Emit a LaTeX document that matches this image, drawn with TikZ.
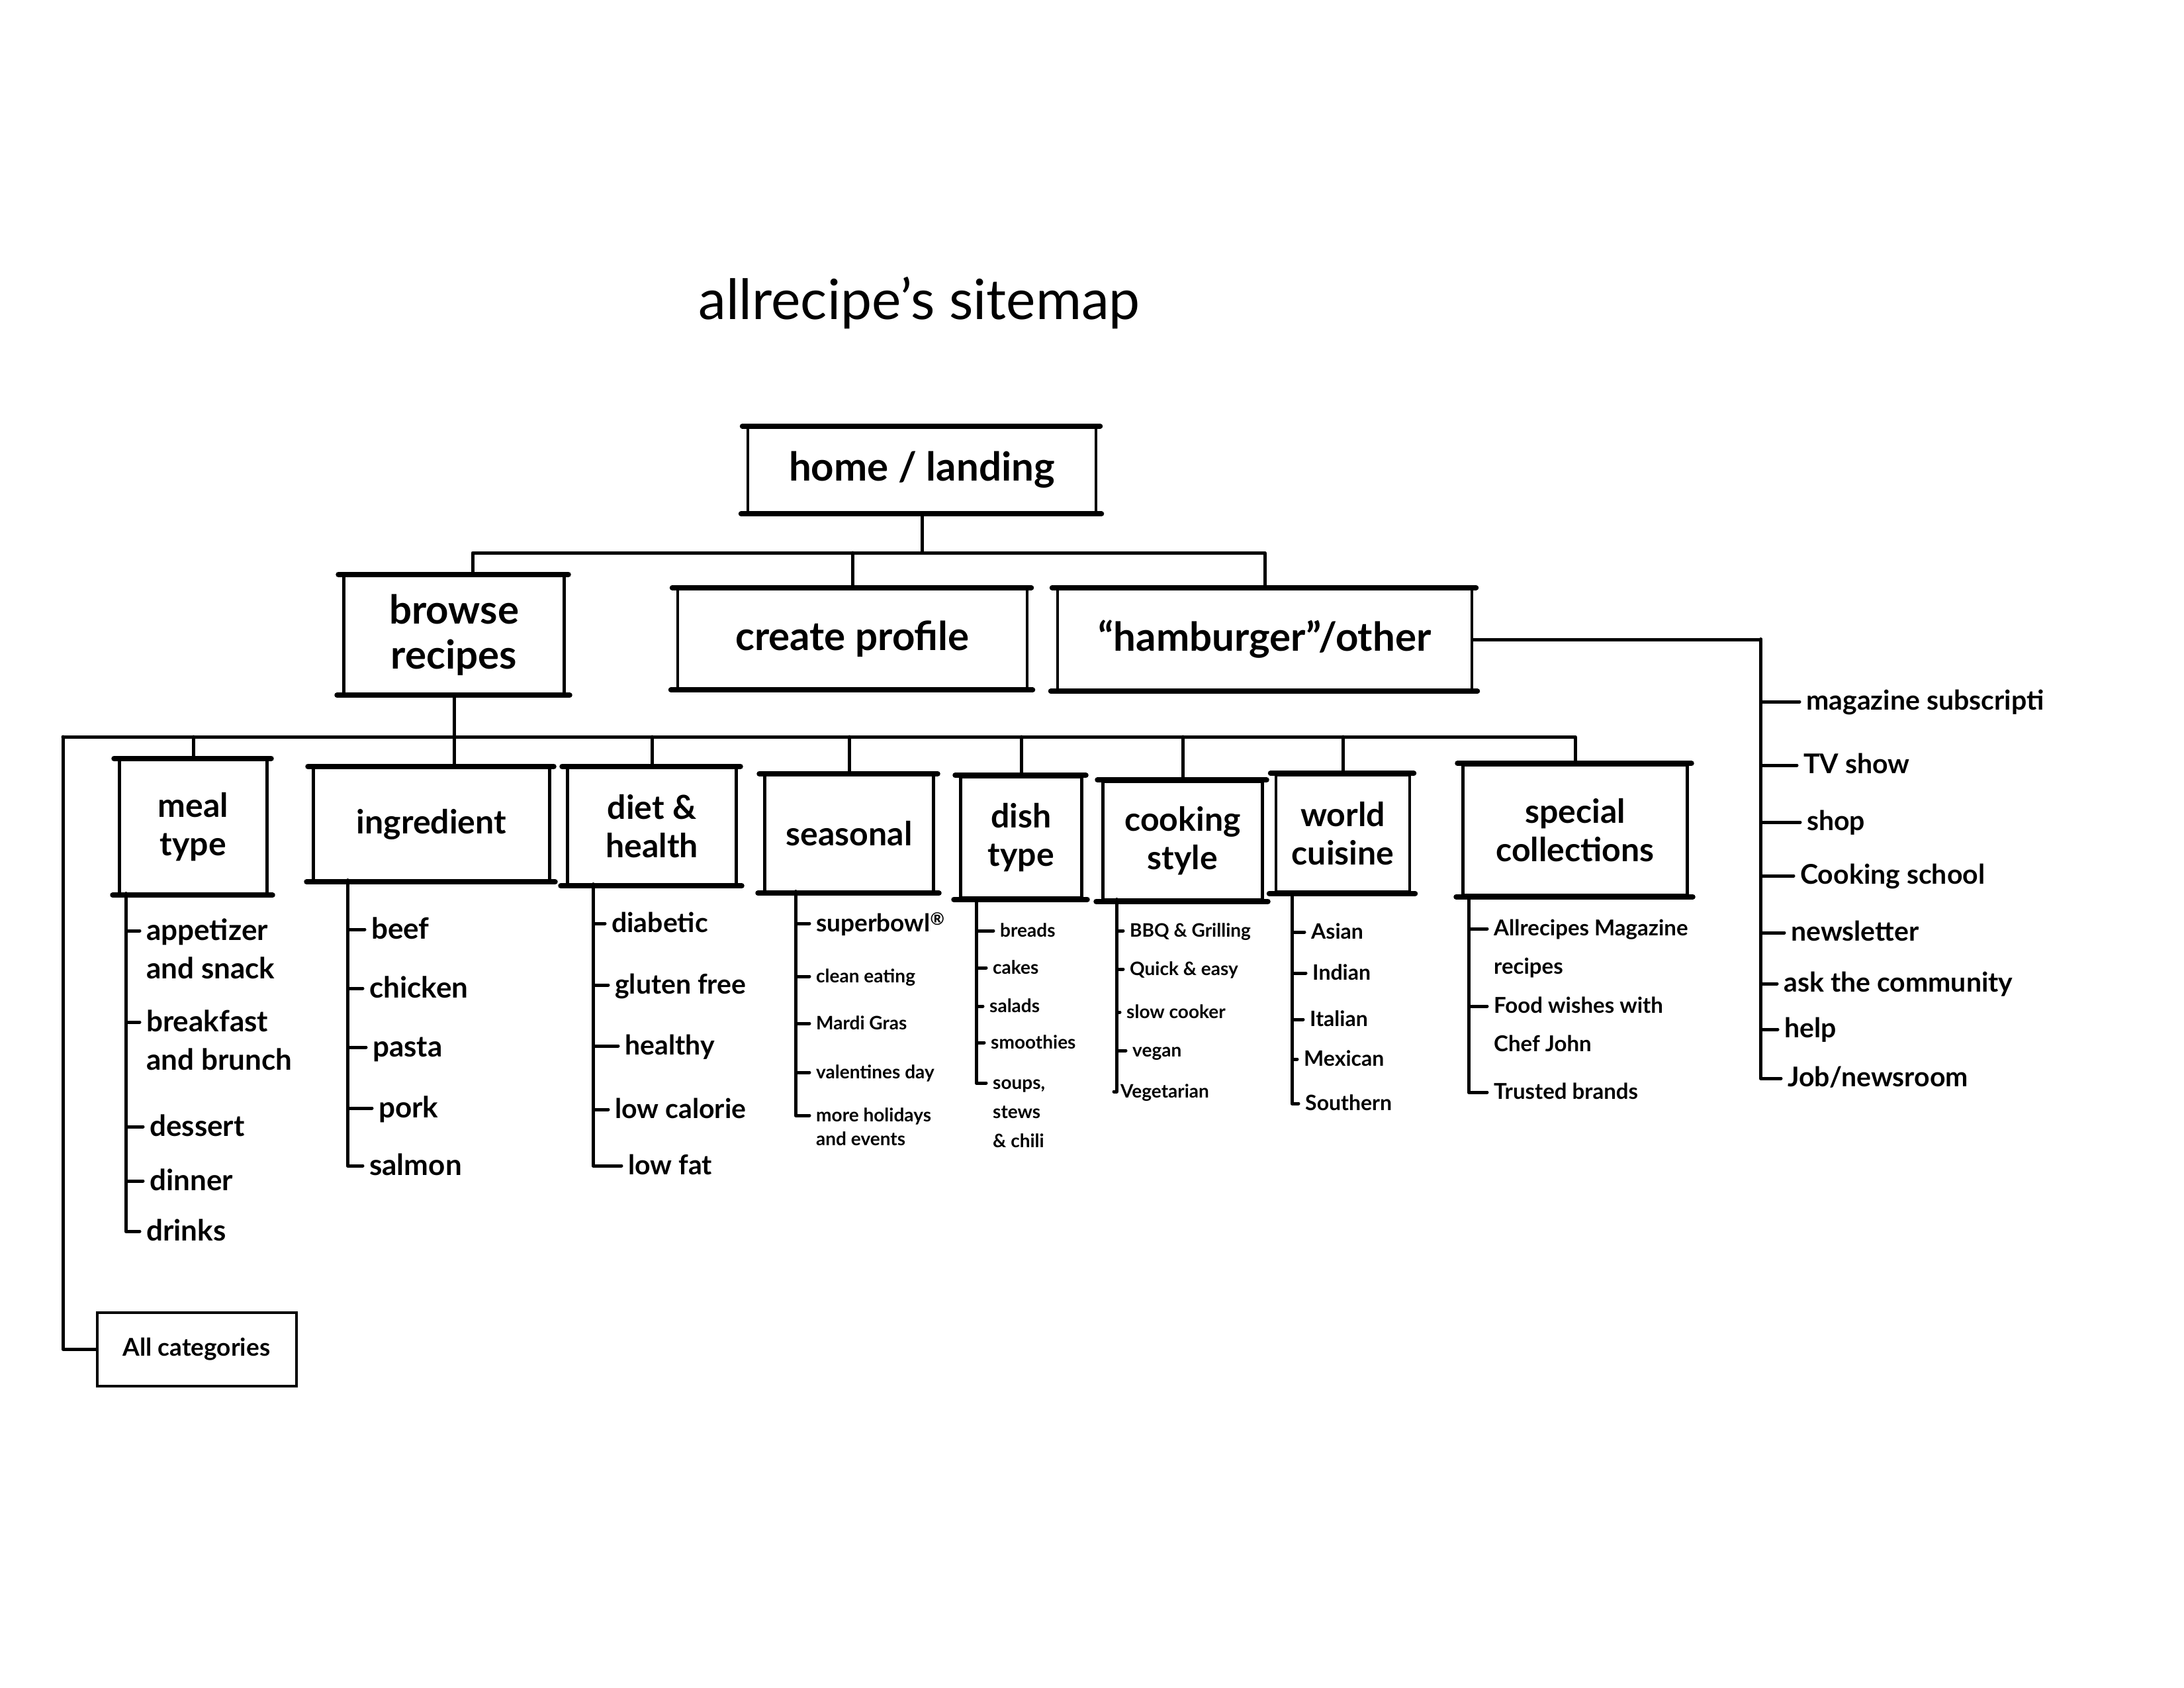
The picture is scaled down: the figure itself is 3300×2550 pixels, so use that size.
\documentclass[tikz,border=0pt]{standalone}
\usepackage{fontspec}
\setmainfont{Lato}
\newcommand{\mlines}[1]{\begin{tabular}[t]{@{}l@{}}#1\end{tabular}}
\begin{document}
\bfseries
\begin{tikzpicture}[x=1pt,y=-1pt,
  wire/.style={line width=5pt, line cap=round, line join=round},
  box/.style={draw, line width=4.5pt, align=center, inner sep=0pt},
  lvl1/.style={box, font=\fontsize{60}{68}\selectfont},
  lvl2/.style={box, font=\fontsize{50}{58}\selectfont},
  itm/.style={anchor=base west, inner xsep=10pt, inner ysep=0pt},
  itemL/.style={itm, yshift=-14pt, font=\fontsize{44}{58}\selectfont},
  itemM/.style={itm, yshift=-13pt, font=\fontsize{41}{56}\selectfont},
  itemS/.style={itm, yshift=-9pt, font=\fontsize{28}{40}\selectfont},
  itemW/.style={itm, yshift=-10pt, font=\fontsize{32}{44}\selectfont},
  itemC/.style={itm, yshift=-10pt, font=\fontsize{33}{58}\selectfont},
  itemR/.style={itm, yshift=-12pt, font=\fontsize{41}{50}\selectfont},
]
\fill[white] (0,0) rectangle (3300,2550);
\useasboundingbox (0,0) rectangle (3300,2550);

% title
\node[font=\mdseries\fontsize{84}{94}\selectfont] (title) at (1389,458) {allrecipe's sitemap};

% level 0 / 1
\node[lvl1, minimum width=526pt, minimum height=128pt] (home) at (1393,710) {home / landing};
\node[lvl1, minimum width=333pt, minimum height=178pt] (browse) at (686,959) {browse\\recipes};
\node[lvl1, minimum width=528pt, minimum height=150pt] (create) at (1288,965) {create profile};
\node[lvl1, minimum width=626pt, minimum height=152pt] (hamb) at (1911,966) {“hamburger”/other};

% level 2
\node[lvl2, minimum width=223pt, minimum height=202pt] (meal) at (292,1249) {meal\\type};
\node[lvl2, minimum width=357pt, minimum height=170pt] (ingr) at (652,1245) {ingredient};
\node[lvl2, minimum width=255pt, minimum height=176pt] (diet) at (985,1248) {diet \&\\health};
\node[lvl2, minimum width=255pt, minimum height=176pt] (seas) at (1283,1259) {seasonal};
\node[lvl2, minimum width=183pt, minimum height=183pt] (dish) at (1543,1265) {dish\\type};
\node[lvl2, minimum width=241pt, minimum height=179pt] (cook) at (1787,1270) {cooking\\style};
\node[lvl2, minimum width=202pt, minimum height=177pt] (world) at (2029,1259) {world\\cuisine};
\node[lvl2, minimum width=339pt, minimum height=197pt] (spec) at (2380,1254) {special\\collections};
\node[box, line width=4pt, font=\fontsize{37}{44}\selectfont, minimum width=301pt, minimum height=111pt] (allcat) at (297,2038) {All categories};

% heavier top and bottom strokes of the boxes
\foreach \n in {home,browse,create,hamb,meal,ingr,diet,seas,dish,cook,world,spec}
  \draw[line width=8pt, line cap=round]
    ([xshift=-6pt]\n.north west) -- ([xshift=4pt]\n.north east)
    ([xshift=-8pt]\n.south west) -- ([xshift=6pt]\n.south east);

% top connectors
\coordinate (tbar) at (1363,835);
\draw[wire] (home.south) -- (home.south |- tbar);
\draw[wire] ([xshift=28pt]browse.north) |- (hamb.north |- tbar) -- (hamb.north);
\draw[wire] (create.north) -- (create.north |- tbar);

% main category bar
\coordinate (barL) at (95,1113);
\draw[wire] (barL) -| (spec.north);
\draw[wire] (barL) |- (allcat.west);
\draw[wire] (browse.south) -- (browse.south |- ingr.north);
\foreach \n in {meal,diet,seas,dish,cook,world}
  \draw[wire] (\n.north) -- (\n.north |- barL);

% meal type list
\node[itemL] (mt1) at (211,1406) {\mlines{appetizer\\and snack}};
\node[itemL] (mt2) at (211,1544) {\mlines{breakfast\\and brunch}};
\node[itemL] (mt3) at (216,1702) {dessert};
\node[itemL] (mt4) at (216,1784) {dinner};
\node[itemL] (mt5) at (211,1860) {drinks};
\coordinate (mtsp) at (190,1350);
\foreach \i in {mt1,mt2,mt3,mt4,mt5}
  \draw[wire] (mtsp) |- ([yshift=14pt]\i.base west);

% ingredient list
\node[itemL] (in1) at (551,1404) {beef};
\node[itemL] (in2) at (548,1493) {chicken};
\node[itemL] (in3) at (553,1582) {pasta};
\node[itemL] (in4) at (562,1674) {pork};
\node[itemL] (in5) at (548,1761) {salmon};
\coordinate (insp) at (525,1330);
\foreach \i in {in1,in2,in3,in4,in5}
  \draw[wire] (insp) |- ([yshift=14pt]\i.base west);

% diet & health list
\node[itemM] (di1) at (914,1395) {diabetic};
\node[itemM] (di2) at (919,1488) {gluten free};
\node[itemM] (di3) at (934,1580) {healthy};
\node[itemM] (di4) at (919,1676) {low calorie};
\node[itemM] (di5) at (939,1761) {low fat};
\coordinate (disp) at (896,1336);
\foreach \i in {di1,di2,di3,di4,di5}
  \draw[wire] (disp) |- ([yshift=13pt]\i.base west);

% seasonal list
\node[itm, yshift=-12pt, font=\fontsize{37}{44}\selectfont] (se1) at (1223,1395) {superbowl\textsuperscript{®}};
\node[itemS] (se2) at (1223,1475) {clean eating};
\node[itemS] (se3) at (1223,1546) {Mardi Gras};
\node[itemS] (se4) at (1223,1620) {valentines day};
\node[itemS, font=\fontsize{28}{36}\selectfont] (se5) at (1223,1685) {\mlines{more holidays\\and events}};
\coordinate (sesp) at (1202,1347);
\draw[wire] (sesp) |- ([yshift=12pt]se1.base west);
\foreach \i in {se2,se3,se4,se5}
  \draw[wire] (sesp) |- ([yshift=9pt]\i.base west);

% dish type list
\node[itemS] (dt1) at (1501,1406) {breads};
\node[itemS] (dt2) at (1490,1462) {cakes};
\node[itemS] (dt3) at (1485,1520) {salads};
\node[itemS] (dt4) at (1487,1575) {smoothies};
\node[itemS, font=\fontsize{28}{44}\selectfont] (dt5) at (1490,1636) {\mlines{soups,\\stews\\\& chili}};
\coordinate (dtsp) at (1475,1357);
\foreach \i in {dt1,dt2,dt3,dt4,dt5}
  \draw[wire] (dtsp) |- ([yshift=9pt]\i.base west);

% cooking style list
\node[itemS] (cs1) at (1697,1406) {BBQ \& Grilling};
\node[itemS] (cs2) at (1697,1464) {Quick \& easy};
\node[itemS] (cs3) at (1692,1529) {slow cooker};
\node[itemS] (cs4) at (1701,1587) {vegan};
\node[itemS] (cs5) at (1683,1649) {Vegetarian};
\coordinate (cssp) at (1687,1359);
\foreach \i in {cs1,cs2,cs3,cs4,cs5}
  \draw[wire] (cssp) |- ([yshift=9pt]\i.base west);

% world cuisine list
\node[itemW] (wc1) at (1971,1408) {Asian};
\node[itemW] (wc2) at (1973,1470) {Indian};
\node[itemW] (wc3) at (1969,1540) {Italian};
\node[itemW] (wc4) at (1960,1600) {Mexican};
\node[itemW] (wc5) at (1962,1667) {Southern};
\coordinate (wcsp) at (1952,1348);
\foreach \i in {wc1,wc2,wc3,wc4,wc5}
  \draw[wire] (wcsp) |- ([yshift=10pt]\i.base west);

% special collections list
\node[itemC] (sc1) at (2247,1403) {\mlines{Allrecipes Magazine\\recipes}};
\node[itemC] (sc2) at (2247,1520) {\mlines{Food wishes with\\Chef John}};
\node[itemC] (sc3) at (2247,1650) {Trusted brands};
\coordinate (scsp) at (2219,1353);
\foreach \i in {sc1,sc2,sc3}
  \draw[wire] (scsp) |- ([yshift=10pt]\i.base west);

% "hamburger"/other list
\node[itemR] (r1) at (2719,1060) {magazine subscripti};
\node[itemR] (r2) at (2715,1156) {TV show};
\node[itemR] (r3) at (2720,1242) {shop};
\node[itemR] (r4) at (2710,1323) {Cooking school};
\node[itemR] (r5) at (2696,1409) {newsletter};
\node[itemR] (r6) at (2685,1486) {ask the community};
\node[itemR] (r7) at (2686,1555) {help};
\node[itemR] (r8) at (2691,1629) {Job/newsroom};
\coordinate (rsp) at (2660,966);
\draw[wire] (hamb.east) -- (rsp);
\foreach \i in {r1,r2,r3,r4,r5,r6,r7,r8}
  \draw[wire] (rsp) |- ([yshift=12pt]\i.base west);
\end{tikzpicture}
\end{document}
